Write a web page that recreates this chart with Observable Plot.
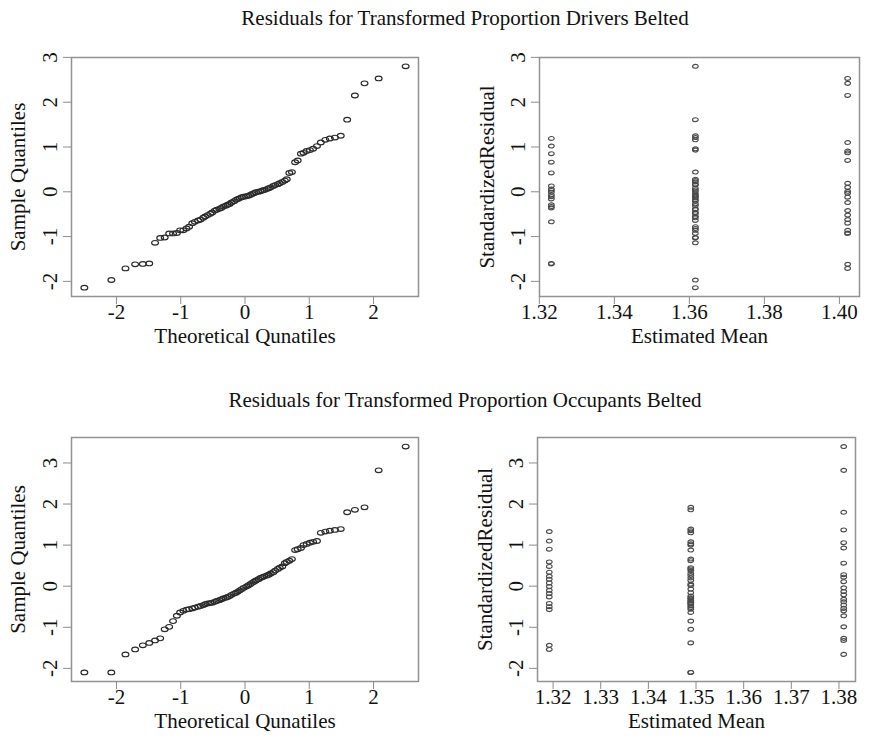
<!DOCTYPE html>
<html><head><meta charset="utf-8">
<script src="https://cdn.jsdelivr.net/npm/d3@7"></script>
<script src="https://cdn.jsdelivr.net/npm/@observablehq/plot@0.6"></script>
<style>
html,body{margin:0;padding:0;background:#fff;}
#wrap{position:relative;width:885px;height:744px;font-family:'Liberation Serif','Times New Roman',serif;color:#111;overflow:hidden;}
.title{position:absolute;left:0;width:930px;text-align:center;font-size:21px;line-height:24px;}
.panel{position:absolute;}
</style></head>
<body><div id="wrap">
<div class="title" style="top:6px;">Residuals for Transformed Proportion Drivers Belted</div>
<div class="title" style="top:388px;">Residuals for Transformed Proportion Occupants Belted</div>
<div class="panel" id="p1" style="left:0;top:40px;"></div>
<div class="panel" id="p2" style="left:442px;top:40px;"></div>
<div class="panel" id="p3" style="left:0;top:420px;"></div>
<div class="panel" id="p4" style="left:442px;top:420px;"></div>
</div>
<script>
// Theoretical normal quantiles (n = 80)
const theoretical = [-2.50,-2.08,-1.86,-1.71,-1.59,-1.49,-1.40,-1.32,-1.25,-1.18,-1.12,-1.06,-1.01,-0.96,-0.91,-0.87,-0.82,-0.78,-0.73,-0.69,-0.65,-0.62,-0.58,-0.54,-0.51,-0.47,-0.44,-0.40,-0.37,-0.34,-0.30,-0.27,-0.24,-0.21,-0.17,-0.14,-0.11,-0.08,-0.05,-0.02,
0.02,0.05,0.08,0.11,0.14,0.17,0.21,0.24,0.27,0.30,0.34,0.37,0.40,0.44,0.47,0.51,0.54,0.58,0.62,0.65,0.69,0.73,0.78,0.82,0.87,0.91,0.96,1.01,1.06,1.12,1.18,1.25,1.32,1.40,1.49,1.59,1.71,1.86,2.08,2.50];

// Drivers belted: estimated means and standardized residuals per group
const driversMeans = [1.3232, 1.3616, 1.4022];
const driversResidLow = [-1.61,-1.60,-0.67,-0.36,-0.33,-0.29,-0.16,-0.11,-0.07,-0.01,0.03,0.06,0.13,0.42,0.66,0.85,1.02,1.19];
const driversResidMid = [-2.14,-1.97,-1.14,-1.03,-1.02,-0.93,-0.86,-0.82,-0.78,-0.64,-0.58,-0.55,-0.49,-0.46,-0.40,-0.38,-0.31,-0.27,-0.21,-0.18,-0.14,-0.10,-0.09,-0.05,0.00,0.04,0.08,0.15,0.17,0.22,0.25,0.28,0.44,0.93,0.96,1.16,1.21,1.25,1.61,2.80];
const driversResidHigh = [-1.71,-1.62,-0.93,-0.92,-0.86,-0.70,-0.62,-0.52,-0.42,-0.24,-0.12,-0.03,0.01,0.10,0.19,0.70,0.87,0.91,1.10,2.15,2.42,2.53];

// Occupants belted: estimated means and standardized residuals per group
const occMeans = [1.3192, 1.3489, 1.3810];
const occResidLow = [-1.54,-1.44,-0.57,-0.50,-0.42,-0.26,-0.18,-0.10,-0.01,0.08,0.17,0.24,0.34,0.48,0.59,0.90,1.10,1.33];
const occResidMid = [-2.10,-2.10,-1.38,-1.05,-0.85,-0.64,-0.56,-0.52,-0.48,-0.44,-0.41,-0.40,-0.36,-0.34,-0.30,-0.28,-0.24,-0.16,-0.07,0.02,0.05,0.14,0.20,0.26,0.31,0.38,0.42,0.45,0.62,0.66,0.88,1.00,1.03,1.08,1.30,1.35,1.39,1.86,1.92];
const occResidHigh = [-1.66,-1.32,-1.27,-0.99,-0.72,-0.60,-0.54,-0.46,-0.38,-0.32,-0.21,-0.13,-0.04,0.11,0.22,0.28,0.56,0.93,1.06,1.37,1.80,2.82,3.40];

// Tick labels
const qqTicksX = [-2,-1,0,1,2];
const residTicksY = [-2,-1,0,1,2,3];
const driversTicksX = [1.32,1.34,1.36,1.38,1.40];
const occTicksX = [1.32,1.33,1.34,1.35,1.36,1.37,1.38];

const FONT = "'Liberation Serif','Times New Roman',serif";

function ellipseSymbol(ax, ay) {
  return {draw(ctx, size) {
    const r = Math.sqrt(size / Math.PI), rx = r * ax, ry = r * ay, k = 0.5523;
    ctx.moveTo(rx, 0);
    ctx.bezierCurveTo(rx, ry*k, rx*k, ry, 0, ry);
    ctx.bezierCurveTo(-rx*k, ry, -rx, ry*k, -rx, 0);
    ctx.bezierCurveTo(-rx, -ry*k, -rx*k, -ry, 0, -ry);
    ctx.bezierCurveTo(rx*k, -ry, rx, -ry*k, rx, 0);
    ctx.closePath();
  }};
}

function rExtent(vals) {
  const [a, b] = d3.extent(vals); const e = (b - a) * 0.04; return [a - e, b + e];
}

function panel(o) {
  const txt = {fill: "#111", fontSize: 21, fontFamily: FONT};
  return Plot.plot({
    width: o.width, height: o.height,
    marginLeft: o.ml, marginRight: o.mr, marginTop: o.mt, marginBottom: o.mb,
    style: {fontFamily: FONT, fontSize: "21px", background: "transparent", color: "#111", overflow: "visible"},
    x: {domain: o.xDomain, axis: null},
    y: {domain: o.yDomain, axis: null},
    marks: [
      Plot.frame({stroke: "#929292", strokeWidth: 1.5}),
      Plot.axisX(o.xTicks, {anchor: "bottom", tickSize: 8, tickFormat: () => "", stroke: "#8c8c8c", label: null}),
      Plot.axisY(o.yTicks, {anchor: "left", tickSize: 8, tickFormat: () => "", stroke: "#8c8c8c", label: null}),
      Plot.text(o.xTicks, {x: d => d, text: o.xFmt, frameAnchor: "bottom", dy: 16, lineAnchor: "middle", ...txt}),
      Plot.text(o.yTicks, {y: d => d, text: d => String(d), frameAnchor: "left", rotate: -90, dx: -21, textAnchor: "middle", lineAnchor: "middle", ...txt}),
      Plot.text([o.yLabel], {text: d => d, frameAnchor: "left", rotate: -90, dx: o.yLabelDx, textAnchor: "middle", lineAnchor: "middle", ...txt}),
      Plot.text([o.xLabel], {text: d => d, frameAnchor: "bottom", dy: 40, lineAnchor: "middle", ...txt}),
      Plot.dot(o.data, {x: o.x, y: o.y, r: o.r, symbol: o.symbol, fill: "none", stroke: o.dotColor, strokeWidth: 1.15})
    ]
  });
}

function qqData(values) {
  const sorted = values.slice().sort((a, b) => a - b);
  return sorted.map((s, i) => ({t: theoretical[i], s}));
}
function residData(means, groups) {
  return groups.flatMap((g, gi) => g.map(v => ({m: means[gi], r: v})));
}

const topAll = [...driversResidLow, ...driversResidMid, ...driversResidHigh];
const botAll = [...occResidLow, ...occResidMid, ...occResidHigh];
const qqSym = ellipseSymbol(1.2, 0.82);
const resSym = ellipseSymbol(1.05, 0.72);

document.getElementById("p1").appendChild(panel({
  width: 442, height: 320, ml: 71, mr: 24, mt: 17, mb: 64,
  xDomain: rExtent(theoretical), yDomain: rExtent(topAll),
  xTicks: qqTicksX, yTicks: residTicksY, xFmt: d => String(d),
  xLabel: "Theoretical Qunatiles", yLabel: "Sample Quantiles", yLabelDx: -53,
  data: qqData(topAll), x: "t", y: "s", symbol: qqSym, dotColor: "#2a2a2a", r: 2.85
}));
document.getElementById("p2").appendChild(panel({
  width: 443, height: 320, ml: 97, mr: 26, mt: 17, mb: 64,
  xDomain: rExtent(driversMeans), yDomain: rExtent(topAll),
  xTicks: driversTicksX, yTicks: residTicksY, xFmt: d => d.toFixed(2),
  xLabel: "Estimated Mean", yLabel: "StandardizedResidual", yLabelDx: -52,
  data: residData(driversMeans, [driversResidLow, driversResidMid, driversResidHigh]), x: "m", y: "r", symbol: resSym, dotColor: "#4a4a4a", r: 2.7
}));
document.getElementById("p3").appendChild(panel({
  width: 442, height: 324, ml: 71, mr: 24, mt: 17, mb: 63,
  xDomain: rExtent(theoretical), yDomain: rExtent(botAll),
  xTicks: qqTicksX, yTicks: residTicksY, xFmt: d => String(d),
  xLabel: "Theoretical Qunatiles", yLabel: "Sample Quantiles", yLabelDx: -53,
  data: qqData(botAll), x: "t", y: "s", symbol: qqSym, dotColor: "#2a2a2a", r: 2.85
}));
document.getElementById("p4").appendChild(panel({
  width: 443, height: 324, ml: 95, mr: 30, mt: 17, mb: 63,
  xDomain: rExtent(occMeans), yDomain: rExtent(botAll),
  xTicks: occTicksX, yTicks: residTicksY, xFmt: d => d.toFixed(2),
  xLabel: "Estimated Mean", yLabel: "StandardizedResidual", yLabelDx: -52,
  data: residData(occMeans, [occResidLow, occResidMid, occResidHigh]), x: "m", y: "r", symbol: resSym, dotColor: "#4a4a4a", r: 2.7
}));
</script>
</body></html>
